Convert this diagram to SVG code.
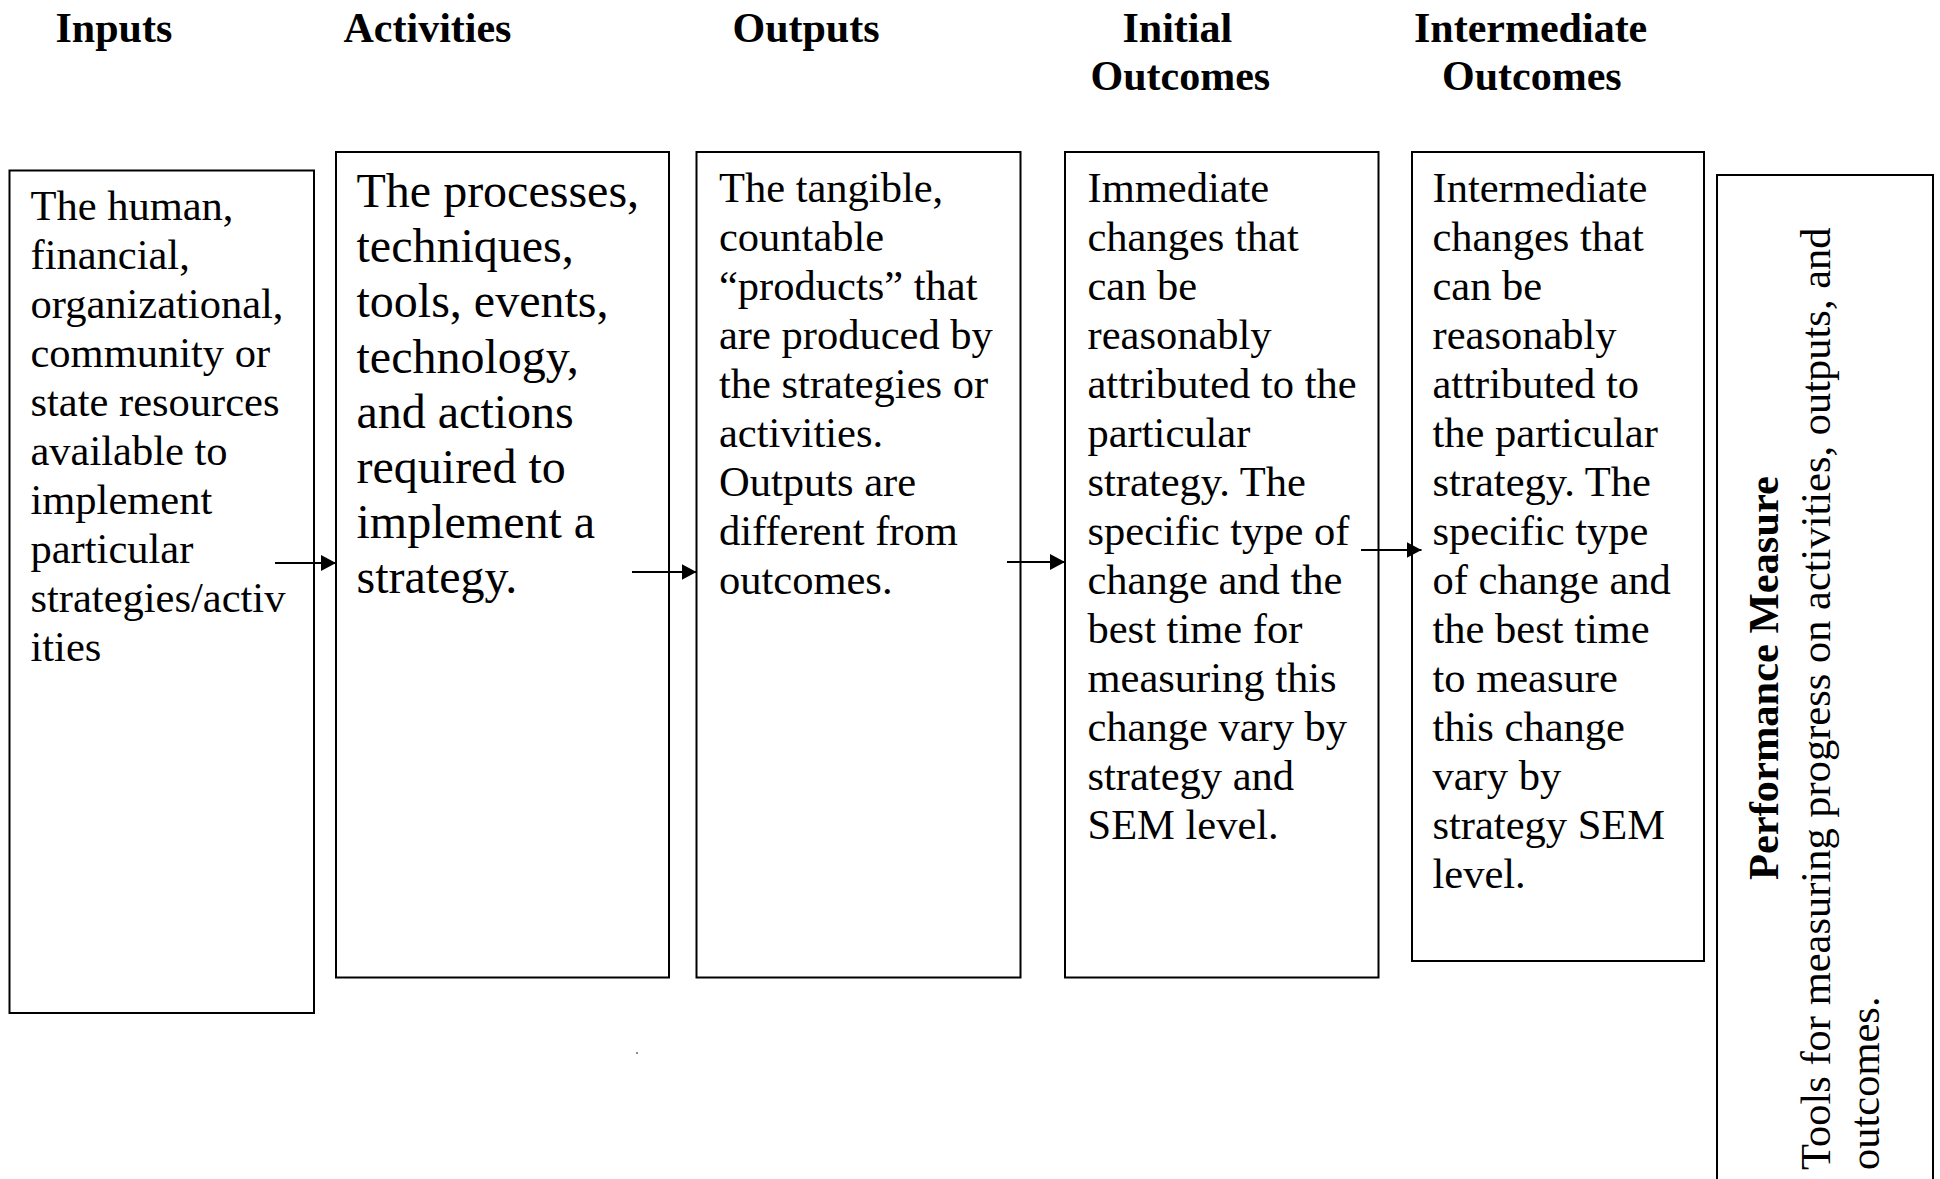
<svg xmlns="http://www.w3.org/2000/svg" width="1940" height="1179" viewBox="0 0 1940 1179">
<style>
.hd{font-family:"Liberation Serif","Times New Roman",serif;font-weight:bold;font-size:42px;fill:#000}
.t{font-family:"Liberation Serif","Times New Roman",serif;font-size:42.5px;fill:#000}
.tl{font-family:"Liberation Serif","Times New Roman",serif;font-size:48px;fill:#000}
.tb{font-family:"Liberation Serif","Times New Roman",serif;font-weight:bold;font-size:42.5px;fill:#000}
.box{fill:#fff;stroke:#000;stroke-width:2}
.arr{stroke:#000;stroke-width:2.2;fill:none;marker-end:url(#ah)}
</style>
<defs>
<marker id="ah" markerWidth="16" markerHeight="16" refX="15" refY="8" orient="auto" markerUnits="userSpaceOnUse">
<path d="M0,0 L15,8 L0,16 Z" fill="#000"/>
</marker>
</defs>
<rect width="1940" height="1179" fill="#fff"/>
<g id="headers">
<text class="hd" x="55.5" y="41.5">Inputs</text>
<text class="hd" x="343.5" y="41.5">Activities</text>
<text class="hd" x="732.5" y="41.5">Outputs</text>
<text class="hd" x="1122.5" y="41.5">Initial</text>
<text class="hd" x="1090.5" y="90">Outcomes</text>
<text class="hd" x="1414" y="41.5">Intermediate</text>
<text class="hd" x="1442" y="90">Outcomes</text>
</g>
<g id="inputs">
<rect class="box" x="9.5" y="170.5" width="304.5" height="842.5"/>
<text class="t" x="30.5" y="220">The human,</text>
<text class="t" x="30.5" y="269">financial,</text>
<text class="t" x="30.5" y="318">organizational,</text>
<text class="t" x="30.5" y="367">community or</text>
<text class="t" x="30.5" y="416">state resources</text>
<text class="t" x="30.5" y="465">available to</text>
<text class="t" x="30.5" y="514">implement</text>
<text class="t" x="30.5" y="563">particular</text>
<text class="t" x="30.5" y="612">strategies/activ</text>
<text class="t" x="30.5" y="661">ities</text>
</g>
<g id="activities">
<rect class="box" x="336" y="152" width="333" height="825.5"/>
<text class="tl" x="356.5" y="207">The processes,</text>
<text class="tl" x="356.5" y="262.2">techniques,</text>
<text class="tl" x="356.5" y="317.4">tools, events,</text>
<text class="tl" x="356.5" y="372.6">technology,</text>
<text class="tl" x="356.5" y="427.8">and actions</text>
<text class="tl" x="356.5" y="483">required to</text>
<text class="tl" x="356.5" y="538.2">implement a</text>
<text class="tl" x="356.5" y="593.4">strategy.</text>
</g>
<g id="outputs">
<rect class="box" x="696.5" y="152" width="324" height="825.5"/>
<text class="t" x="719" y="201.7">The tangible,</text>
<text class="t" x="719" y="250.7">countable</text>
<text class="t" x="719" y="299.7">“products” that</text>
<text class="t" x="719" y="348.7">are produced by</text>
<text class="t" x="719" y="397.7">the strategies or</text>
<text class="t" x="719" y="446.7">activities.</text>
<text class="t" x="719" y="495.7">Outputs are</text>
<text class="t" x="719" y="544.7">different from</text>
<text class="t" x="719" y="593.7">outcomes.</text>
</g>
<g id="initial-outcomes">
<rect class="box" x="1065" y="152" width="313.5" height="825.5"/>
<text class="t" x="1087.5" y="201.7">Immediate</text>
<text class="t" x="1087.5" y="250.7">changes that</text>
<text class="t" x="1087.5" y="299.7">can be</text>
<text class="t" x="1087.5" y="348.7">reasonably</text>
<text class="t" x="1087.5" y="397.7">attributed to the</text>
<text class="t" x="1087.5" y="446.7">particular</text>
<text class="t" x="1087.5" y="495.7">strategy. The</text>
<text class="t" x="1087.5" y="544.7">specific type of</text>
<text class="t" x="1087.5" y="593.7">change and the</text>
<text class="t" x="1087.5" y="642.7">best time for</text>
<text class="t" x="1087.5" y="691.7">measuring this</text>
<text class="t" x="1087.5" y="740.7">change vary by</text>
<text class="t" x="1087.5" y="789.7">strategy and</text>
<text class="t" x="1087.5" y="838.7">SEM level.</text>
</g>
<g id="intermediate-outcomes">
<rect class="box" x="1412" y="152" width="292" height="809"/>
<text class="t" x="1432.5" y="201.7">Intermediate</text>
<text class="t" x="1432.5" y="250.7">changes that</text>
<text class="t" x="1432.5" y="299.7">can be</text>
<text class="t" x="1432.5" y="348.7">reasonably</text>
<text class="t" x="1432.5" y="397.7">attributed to</text>
<text class="t" x="1432.5" y="446.7">the particular</text>
<text class="t" x="1432.5" y="495.7">strategy. The</text>
<text class="t" x="1432.5" y="544.7">specific type</text>
<text class="t" x="1432.5" y="593.7">of change and</text>
<text class="t" x="1432.5" y="642.7">the best time</text>
<text class="t" x="1432.5" y="691.7">to measure</text>
<text class="t" x="1432.5" y="740.7">this change</text>
<text class="t" x="1432.5" y="789.7">vary by</text>
<text class="t" x="1432.5" y="838.7">strategy SEM</text>
<text class="t" x="1432.5" y="887.7">level.</text>
</g>
<g id="performance-measure">
<rect class="box" x="1717" y="175" width="216" height="1020"/>
<text class="tb" x="1778" y="678" text-anchor="middle" transform="rotate(-90 1778 678)">Performance Measure</text>
<text class="t" x="1830" y="1170" transform="rotate(-90 1830 1170)">Tools for measuring progress on activities, outputs, and</text>
<text class="t" x="1879" y="1170" transform="rotate(-90 1879 1170)">outcomes.</text>
</g>
<g id="connectors">
<line class="arr" x1="275" y1="563" x2="336" y2="563"/>
<line class="arr" x1="632" y1="572" x2="696.5" y2="572"/>
<line class="arr" x1="1007" y1="562" x2="1065" y2="562"/>
<line class="arr" x1="1361" y1="550" x2="1421.5" y2="550"/>
</g>
<circle cx="637" cy="1053" r="0.9" fill="#555"/>
</svg>
